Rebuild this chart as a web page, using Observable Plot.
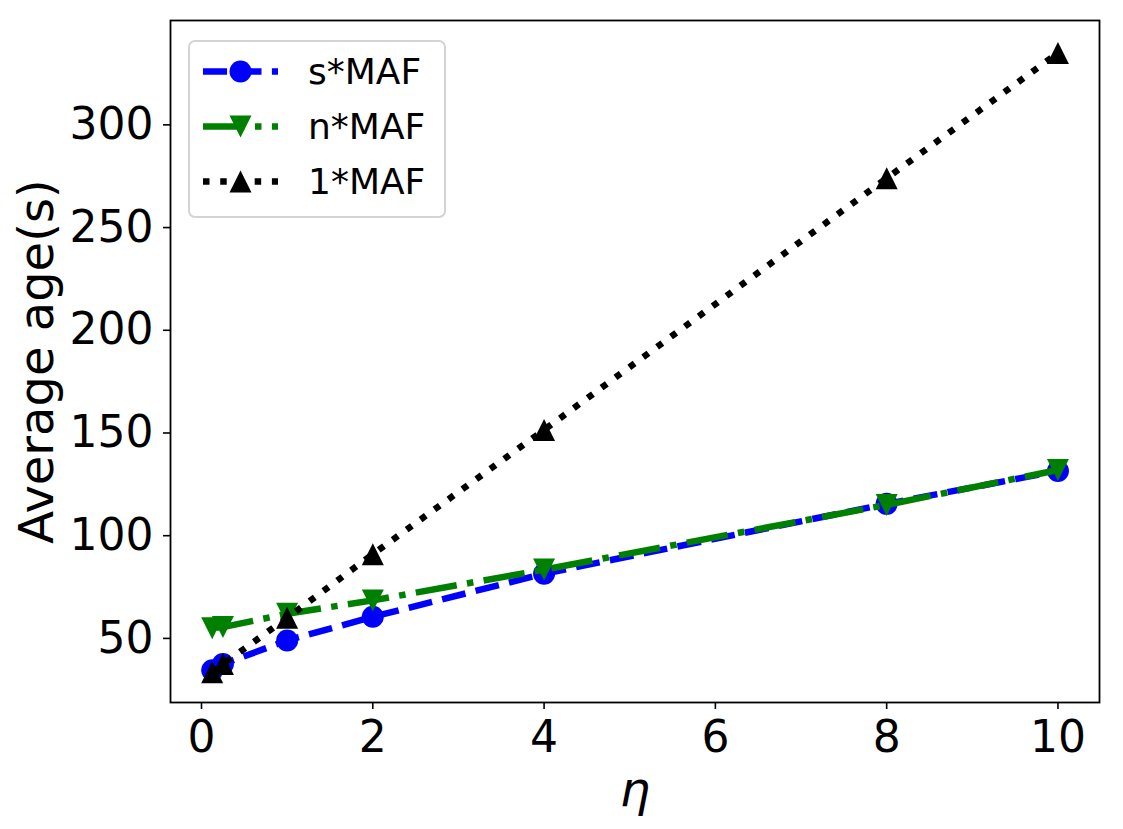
<!DOCTYPE html>
<html>
<head>
<meta charset="utf-8">
<script src="https://cdn.jsdelivr.net/npm/d3@7"></script>
<script src="https://cdn.jsdelivr.net/npm/@observablehq/plot@0.6"></script>
<style>
  html, body { margin: 0; padding: 0; background: #fff; }
  #wrap { position: relative; width: 1123px; height: 829px; font-family: "DejaVu Sans", sans-serif; }
  #legend { position: absolute; left: 0; top: 0; pointer-events: none; }
</style>
</head>
<body>
<div id="wrap"></div>
<script>
// Average age vs. eta for three MAF strategies
const eta = [0.125, 0.25, 1, 2, 4, 8, 10];
const sMAF = [34.5, 37.5, 49, 60.5, 81.5, 115.5, 131.5];
const nMAF = [55, 55.5, 62, 68.5, 83.5, 115, 132];
const oneMAF = [33.5, 37.5, 60, 91, 151.5, 274, 335];

const seriesNames = ["s*MAF", "n*MAF", "1*MAF"];
const seriesValues = [sMAF, nMAF, oneMAF];
const seriesColors = ["#0000ff", "#008000", "#000000"];

const xTicks = [0, 2, 4, 6, 8, 10];
const yTicks = [50, 100, 150, 200, 250, 300];

const LW = 6.5;
const seriesDash = [
  [3.7 * LW, 1.6 * LW].join(","),
  [6.4 * LW, 1.6 * LW, 1 * LW, 1.6 * LW].join(","),
  [1 * LW, 1.65 * LW].join(",")
];

// marker shapes: circle, downward triangle, upward triangle (width = height = 2r)
const circleSym = {draw(ctx, size) { const r = Math.sqrt(size / Math.PI); ctx.moveTo(r, 0); ctx.arc(0, 0, r, 0, 2 * Math.PI); ctx.closePath(); }};
const triDown = {draw(ctx, size) { const s = Math.sqrt(size / Math.PI); ctx.moveTo(0, s); ctx.lineTo(s, -s); ctx.lineTo(-s, -s); ctx.closePath(); }};
const triUp = {draw(ctx, size) { const s = Math.sqrt(size / Math.PI); ctx.moveTo(0, -s); ctx.lineTo(s, s); ctx.lineTo(-s, s); ctx.closePath(); }};
const seriesSymbols = [circleSym, triDown, triUp];
const MR = 11;

const rows = seriesNames.map((name, i) => eta.map((x, j) => ({series: name, x, y: seriesValues[i][j]})));

const marks = [];
rows.forEach((data, i) => {
  marks.push(Plot.line(data, {
    x: "x", y: "y", stroke: seriesColors[i], strokeWidth: LW,
    strokeDasharray: seriesDash[i], strokeLinecap: "butt", strokeLinejoin: "round"
  }));
  marks.push(Plot.dot(data, {
    x: "x", y: "y", r: MR, symbol: seriesSymbols[i], fill: seriesColors[i], stroke: "none"
  }));
});

const W = 1123, H = 829;
const chart = Plot.plot({
  width: W,
  height: H,
  marginLeft: 170,
  marginRight: 24,
  marginTop: 20,
  marginBottom: 127,
  style: {fontFamily: "DejaVu Sans, sans-serif", background: "#fff", color: "#000", overflow: "visible"},
  x: {domain: [-0.362, 10.485]},
  y: {domain: [18.8, 350.8]},
  marks: [
    Plot.frame({stroke: "#000", strokeWidth: 1.8}),
    ...marks,
    Plot.axisX(xTicks, {tickSize: 7, tickPadding: 11, fontSize: 44, strokeWidth: 1.6, label: null}),
    Plot.axisY(yTicks, {tickSize: 7, tickPadding: 10, fontSize: 44, strokeWidth: 1.6, label: null}),
    Plot.text(["η"], {frameAnchor: "bottom", dy: 88, fontSize: 48, fontStyle: "italic", lineAnchor: "middle", fill: "#000"}),
    Plot.text(["Average age(s)"], {frameAnchor: "left", dx: -133, rotate: -90, fontSize: 48, lineAnchor: "middle", textAnchor: "middle", fill: "#000"})
  ]
});

const wrap = document.getElementById("wrap");
wrap.appendChild(chart);

// legend box in the upper-left corner of the axes
const legend = d3.select(wrap).append("svg")
  .attr("id", "legend").attr("width", W).attr("height", H);
const box = {x: 189, y: 41, w: 256, h: 176};
legend.append("rect")
  .attr("x", box.x).attr("y", box.y).attr("width", box.w).attr("height", box.h)
  .attr("rx", 6).attr("ry", 6)
  .attr("fill", "#fff").attr("fill-opacity", 0.8)
  .attr("stroke", "#d4d4d4").attr("stroke-width", 2);
const rowY = [71.5, 126.5, 181.5];
const handleX0 = 203, handleX1 = 278;
seriesNames.forEach((name, i) => {
  const g = legend.append("g");
  g.append("line")
    .attr("x1", handleX0).attr("x2", handleX1).attr("y1", rowY[i]).attr("y2", rowY[i])
    .attr("stroke", seriesColors[i]).attr("stroke-width", LW)
    .attr("stroke-dasharray", seriesDash[i]).attr("stroke-linecap", "butt");
  g.append("path")
    .attr("transform", `translate(${(handleX0 + handleX1) / 2},${rowY[i]})`)
    .attr("d", d3.symbol(seriesSymbols[i], MR * MR * Math.PI)())
    .attr("fill", seriesColors[i]);
  g.append("text")
    .attr("x", 308).attr("y", rowY[i]).attr("dy", "0.36em")
    .attr("font-family", "DejaVu Sans, sans-serif").attr("font-size", 36)
    .attr("fill", "#000").text(name);
});
</script>
</body>
</html>
